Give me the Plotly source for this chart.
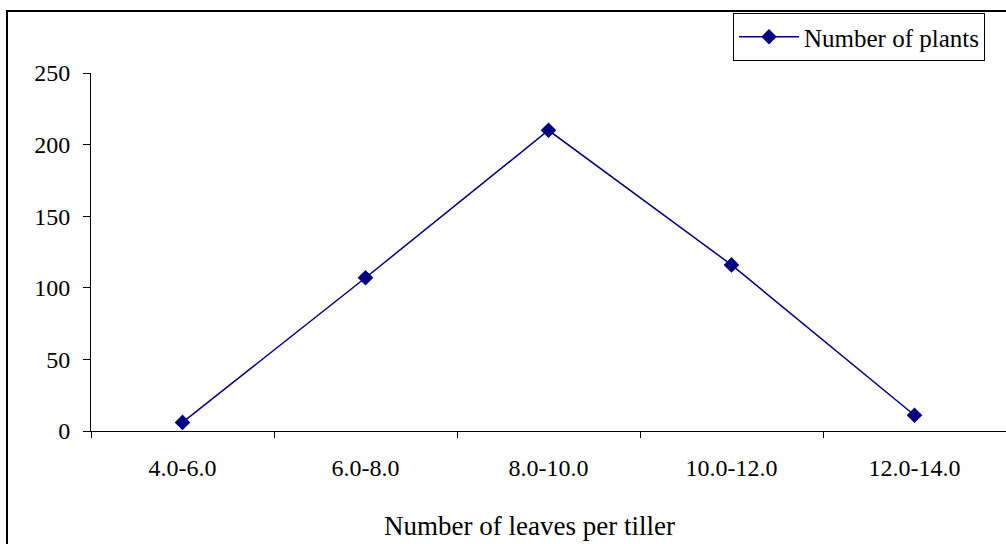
import plotly.graph_objects as go

categories = ["4.0-6.0", "6.0-8.0", "8.0-10.0", "10.0-12.0", "12.0-14.0"]
plants = [6, 107, 210, 116, 11]
y_ticks = [0, 50, 100, 150, 200, 250]
series_name = "Number of plants"
x_title = "Number of leaves per tiller"

W, H = 1006, 544
L, R, T, B = 91, 0, 73, 113
pw, ph = W - L - R, H - T - B

def px(x):
    return (x - L) / pw

def py(y):
    return (H - B - y) / ph

fam = "Liberation Serif, Times New Roman, serif"
font = dict(family=fam, size=24, color="black")

fig = go.Figure()
fig.add_trace(go.Scatter(
    x=categories, y=plants, mode="lines+markers", name=series_name,
    line=dict(color="#000080", width=1.5),
    marker=dict(symbol="diamond", size=12, color="#000080"),
))

fig.update_layout(
    width=W, height=H,
    margin=dict(l=L, r=R, t=T, b=B, pad=0),
    paper_bgcolor="white", plot_bgcolor="white",
    font=font,
    showlegend=True,
    legend=dict(
        x=px(733), y=py(13), xanchor="left", yanchor="top",
        bordercolor="black", borderwidth=1, bgcolor="white",
        font=dict(family=fam, size=25, color="black"),
        itemwidth=60, tracegroupgap=0,
    ),
    xaxis=dict(
        type="category", range=[-0.5, 4.5],
        showline=True, linecolor="black", linewidth=1,
        ticks="outside", ticklen=6, tickcolor="black", tickson="boundaries",
        showgrid=False, zeroline=False,
        ticklabelstandoff=15,
        tickfont=dict(family=fam, size=24),
    ),
    yaxis=dict(
        range=[0, 250], tickvals=y_ticks,
        showline=True, linecolor="black", linewidth=1,
        ticks="outside", ticklen=7, tickcolor="black",
        showgrid=False, zeroline=False,
        ticklabelstandoff=8,
        tickfont=dict(family=fam, size=24),
    ),
    annotations=[
        dict(text=x_title, xref="paper", yref="paper", x=px(529), y=py(526),
             xanchor="center", yanchor="middle", showarrow=False,
             font=dict(family=fam, size=27, color="black")),
    ],
    shapes=[
        dict(type="rect", xref="paper", yref="paper",
             x0=px(7), x1=px(1010), y0=py(560), y1=py(11),
             line=dict(color="black", width=2), fillcolor="rgba(0,0,0,0)", layer="below"),
    ],
)

fig.write_html("out.html")
